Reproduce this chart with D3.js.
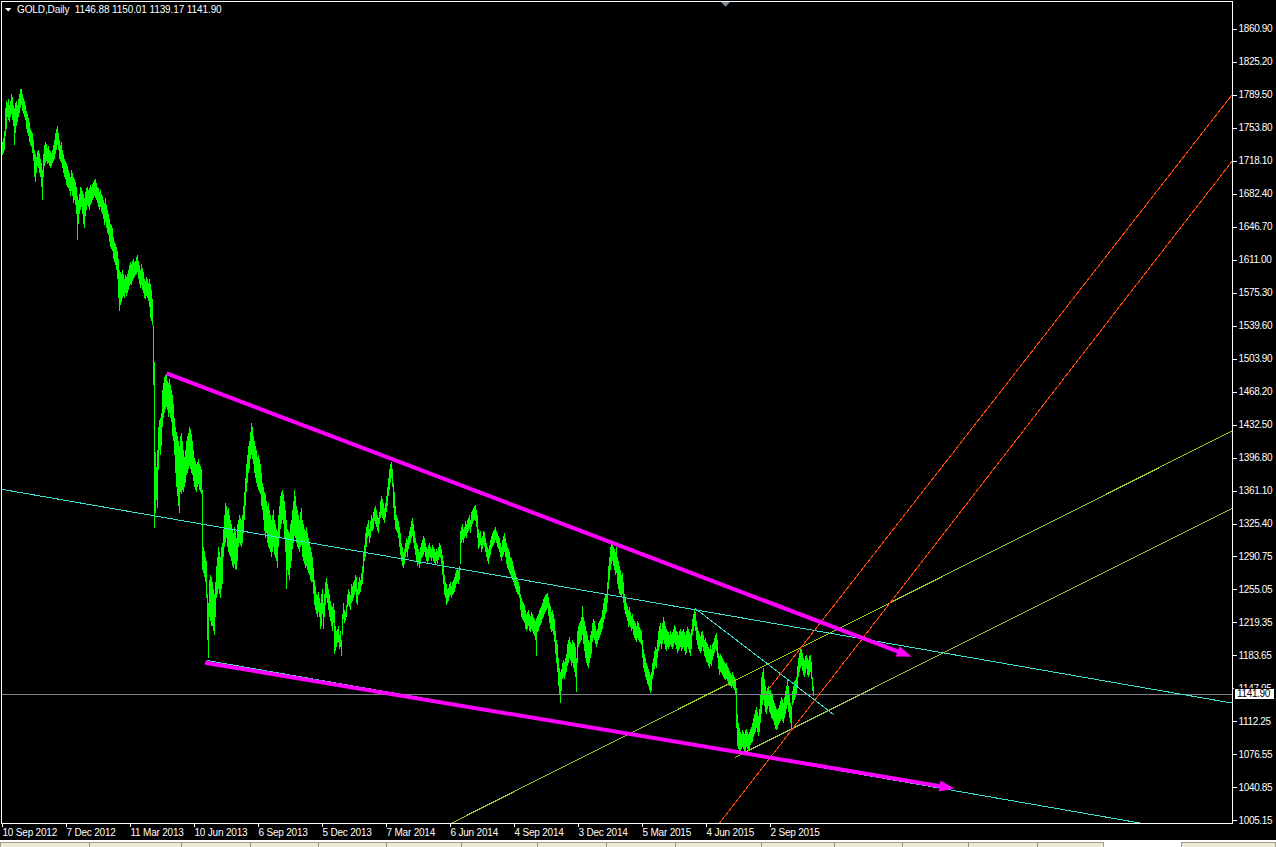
<!DOCTYPE html>
<html><head><meta charset="utf-8">
<script src="https://cdn.jsdelivr.net/npm/d3@7"></script>
<style>
html,body{margin:0;padding:0;background:#000;overflow:hidden}
svg{display:block}
text{font-family:"Liberation Sans",Arial,sans-serif;}
</style></head><body>
<script>
// ---- data ----
const highs = [
1738,1742,1750,1775,1782,1780,1785,1778,1783,1790,
1787,1778,1775,1780,1782,1778,1785,1790,1795,1796,
1790,1786,1782,1778,1772,1768,1764,1760,1752,1750,
1748,1740,1730,1725,1722,1728,1730,1726,1720,1715,
1708,1725,1735,1738,1736,1732,1734,1730,1728,1726,
1730,1735,1740,1748,1752,1755,1748,1740,1735,1738,
1730,1725,1720,1718,1715,1712,1708,1705,1700,1708,
1705,1700,1698,1695,1690,1680,1675,1682,1690,1688,
1685,1682,1678,1684,1688,1690,1686,1688,1692,1690,
1693,1695,1697,1698,1694,1690,1688,1684,1686,1682,
1680,1676,1672,1678,1670,1665,1660,1655,1650,1648,
1645,1636,1630,1628,1625,1620,1612,1600,1598,1595,
1600,1595,1590,1594,1592,1596,1600,1605,1608,1606,
1610,1612,1608,1610,1614,1616,1610,1605,1600,1606,
1602,1598,1590,1588,1592,1590,1586,1590,1585,1578,
1568,1540,1500,1403,1387,1405,1430,1438,1440,1445,
1470,1478,1484,1486,1487,1480,1478,1482,1475,1470,
1465,1455,1440,1430,1425,1420,1415,1410,1420,1424,
1415,1405,1398,1405,1415,1420,1424,1430,1428,1422,
1415,1405,1397,1393,1390,1392,1395,1390,1388,1385,
1362,1300,1296,1290,1285,1250,1240,1265,1270,1268,
1262,1255,1250,1262,1280,1290,1300,1295,1290,1300,
1305,1320,1335,1348,1345,1340,1342,1335,1330,1325,
1320,1315,1322,1318,1310,1325,1330,1335,1332,1330,
1335,1345,1360,1375,1390,1400,1410,1415,1425,1434,
1430,1420,1415,1410,1405,1398,1400,1395,1390,1380,
1370,1365,1360,1358,1350,1345,1348,1340,1335,1330,
1335,1340,1330,1325,1320,1318,1335,1345,1355,1360,
1362,1358,1350,1340,1330,1320,1318,1315,1325,1330,
1340,1350,1362,1355,1345,1340,1335,1330,1338,1342,
1330,1325,1320,1318,1322,1315,1310,1305,1300,1295,
1290,1278,1265,1258,1250,1248,1252,1245,1240,1250,
1255,1240,1250,1262,1267,1260,1255,1250,1242,1238,
1235,1240,1232,1215,1210,1212,1215,1205,1210,1200,
1228,1240,1232,1230,1238,1250,1255,1252,1248,1260,
1258,1262,1265,1270,1268,1255,1262,1268,1265,1272,
1280,1295,1302,1315,1322,1325,1330,1320,1328,1335,
1332,1338,1342,1345,1340,1335,1332,1338,1350,1355,
1352,1348,1342,1348,1355,1365,1375,1385,1390,1392,
1385,1370,1360,1345,1335,1332,1328,1322,1315,1305,
1300,1295,1298,1305,1310,1308,1312,1318,1322,1328,
1332,1325,1318,1310,1305,1302,1298,1295,1300,1305,
1308,1312,1310,1305,1300,1298,1302,1305,1300,1298,
1302,1300,1298,1295,1298,1296,1300,1305,1302,1298,
1292,1285,1270,1262,1260,1255,1256,1260,1262,1258,
1262,1265,1268,1272,1275,1278,1275,1280,1318,1322,
1325,1320,1322,1328,1325,1330,1332,1335,1330,1338,
1340,1342,1345,1346,1340,1335,1320,1315,1318,1310,
1312,1318,1316,1310,1305,1300,1298,1302,1308,1312,
1315,1318,1320,1322,1318,1315,1312,1310,1305,1300,
1308,1312,1315,1310,1305,1300,1298,1295,1290,1288,
1285,1280,1275,1272,1268,1265,1262,1258,1250,1245,
1242,1240,1238,1232,1228,1230,1232,1228,1226,1230,
1228,1225,1222,1220,1224,1226,1228,1232,1234,1236,
1240,1244,1246,1248,1250,1251,1246,1240,1236,1230,
1232,1228,1222,1210,1200,1195,1180,1170,1165,1168,
1175,1178,1176,1180,1185,1195,1200,1203,1198,1195,
1200,1198,1196,1192,1180,1210,1215,1218,1220,1225,
1237,1225,1220,1215,1210,1205,1200,1198,1205,1210,
1218,1222,1220,1215,1210,1212,1218,1220,1222,1225,
1232,1240,1245,1250,1248,1262,1280,1290,1300,1305,
1307,1300,1298,1295,1300,1290,1285,1280,1275,1270,
1272,1262,1250,1245,1240,1236,1232,1235,1230,1226,
1228,1222,1220,1218,1215,1220,1218,1214,1212,1210,
1200,1190,1185,1180,1175,1172,1168,1165,1162,1165,
1175,1180,1188,1192,1190,1200,1210,1215,1218,1212,
1218,1225,1220,1215,1212,1210,1208,1205,1210,1206,
1208,1212,1216,1214,1210,1208,1205,1210,1212,1208,
1210,1212,1208,1205,1210,1214,1212,1208,1206,1212,
1222,1228,1233,1230,1220,1214,1210,1206,1204,1208,
1210,1205,1200,1202,1198,1195,1192,1190,1194,1190,
1195,1198,1202,1205,1207,1200,1186,1182,1185,1182,
1180,1178,1176,1174,1175,1172,1170,1166,1164,1162,
1165,1162,1160,1158,1148,1120,1110,1105,1100,1098,
1102,1100,1098,1102,1104,1100,1098,1100,1104,1106,
1110,1115,1120,1124,1127,1122,1118,1125,1140,1160,
1165,1169,1158,1150,1145,1148,1150,1145,1146,1142,
1140,1135,1132,1128,1125,1124,1126,1130,1134,1138,
1136,1132,1138,1145,1150,1156,1150,1140,1132,1128,
1145,1150,1155,1156,1160,1172,1180,1186,1191,1190,
1186,1180,1178,1182,1184,1180,1178,1182,1184,1176,
1160,1150.01];
const lows = [
1724,1726,1730,1745,1752,1765,1762,1760,1765,1768,
1762,1755,1735,1748,1755,1760,1765,1770,1775,1778,
1772,1768,1765,1762,1752,1748,1745,1738,1735,1733,
1726,1718,1700,1695,1705,1712,1710,1705,1700,1690,
1676,1700,1712,1715,1718,1714,1716,1712,1710,1712,
1715,1718,1720,1725,1730,1735,1730,1720,1718,1715,
1710,1705,1700,1698,1692,1690,1688,1685,1680,1685,
1680,1672,1676,1670,1660,1632,1650,1660,1665,1668,
1660,1650,1645,1658,1665,1670,1668,1665,1670,1672,
1675,1678,1680,1678,1675,1672,1668,1665,1668,1662,
1660,1655,1648,1652,1645,1640,1638,1630,1625,1622,
1620,1612,1608,1605,1600,1590,1570,1556,1562,1565,
1570,1572,1570,1575,1572,1575,1578,1582,1585,1584,
1588,1590,1592,1594,1595,1598,1590,1585,1580,1584,
1578,1575,1570,1568,1572,1570,1566,1560,1548,1545,
1540,1476,1321,1337,1351,1343,1384,1405,1400,1410,
1430,1440,1445,1450,1452,1448,1441,1445,1440,1435,
1420,1415,1400,1380,1365,1355,1345,1337,1360,1358,
1362,1360,1365,1370,1378,1380,1385,1388,1385,1380,
1378,1372,1365,1362,1360,1365,1368,1362,1360,1358,
1275,1272,1268,1262,1245,1200,1180,1225,1220,1215,
1215,1210,1205,1225,1245,1250,1255,1250,1245,1255,
1260,1290,1300,1305,1310,1300,1295,1292,1290,1285,
1280,1278,1282,1276,1275,1285,1300,1305,1302,1300,
1305,1315,1330,1345,1360,1370,1380,1385,1395,1400,
1395,1390,1380,1375,1370,1365,1362,1360,1358,1345,
1340,1330,1318,1310,1315,1305,1300,1298,1295,1290,
1295,1300,1292,1288,1285,1278,1300,1310,1320,1325,
1330,1325,1310,1295,1255,1275,1270,1265,1278,1285,
1298,1305,1312,1310,1305,1300,1298,1295,1300,1302,
1290,1285,1282,1278,1280,1275,1272,1270,1265,1262,
1262,1250,1238,1232,1228,1225,1230,1225,1212,1215,
1228,1212,1225,1238,1245,1240,1232,1225,1220,1215,
1210,1218,1185,1188,1192,1196,1198,1190,1192,1182,
1205,1222,1218,1220,1225,1235,1238,1235,1232,1240,
1242,1245,1248,1252,1240,1238,1248,1250,1252,1258,
1260,1272,1285,1290,1300,1310,1312,1305,1310,1318,
1318,1320,1328,1325,1322,1318,1315,1325,1332,1335,
1332,1330,1326,1332,1338,1345,1355,1362,1370,1375,
1365,1342,1330,1320,1318,1315,1310,1300,1292,1285,
1280,1278,1282,1290,1295,1290,1298,1302,1305,1310,
1312,1305,1298,1292,1285,1280,1282,1278,1282,1288,
1290,1292,1295,1290,1285,1282,1285,1290,1288,1285,
1288,1285,1283,1282,1285,1282,1286,1290,1288,1282,
1270,1260,1248,1245,1238,1240,1242,1246,1248,1245,
1248,1250,1252,1256,1260,1262,1260,1265,1282,1305,
1308,1305,1310,1312,1310,1315,1318,1320,1315,1322,
1325,1328,1330,1328,1322,1310,1298,1300,1302,1295,
1298,1302,1300,1295,1290,1285,1282,1288,1292,1298,
1300,1302,1305,1308,1305,1300,1298,1295,1290,1285,
1290,1292,1295,1290,1282,1278,1275,1272,1270,1268,
1265,1262,1258,1255,1252,1250,1248,1245,1232,1225,
1222,1220,1218,1212,1210,1212,1215,1210,1208,1212,
1210,1206,1204,1200,1183,1208,1210,1214,1216,1218,
1222,1225,1228,1230,1232,1234,1226,1218,1212,1208,
1210,1205,1198,1185,1175,1165,1150,1140,1132,1145,
1158,1160,1158,1162,1165,1172,1175,1180,1178,1172,
1175,1170,1165,1160,1143,1175,1192,1195,1198,1200,
1205,1195,1188,1180,1175,1172,1170,1175,1180,1185,
1198,1202,1200,1195,1192,1195,1200,1202,1205,1208,
1212,1218,1222,1228,1230,1240,1255,1265,1275,1282,
1285,1280,1275,1270,1272,1260,1255,1250,1248,1246,
1250,1240,1232,1228,1225,1220,1214,1216,1214,1210,
1212,1205,1202,1200,1198,1202,1200,1198,1196,1194,
1180,1170,1165,1160,1156,1152,1150,1146,1142,1145,
1158,1162,1168,1172,1170,1180,1188,1192,1195,1190,
1195,1200,1195,1190,1188,1192,1190,1192,1194,1192,
1190,1192,1196,1194,1190,1186,1188,1190,1192,1188,
1190,1192,1188,1184,1186,1192,1190,1186,1182,1190,
1205,1210,1215,1210,1200,1194,1190,1188,1186,1188,
1192,1188,1182,1180,1176,1175,1172,1170,1174,1172,
1178,1182,1186,1190,1188,1180,1168,1162,1165,1164,
1162,1160,1158,1156,1158,1155,1152,1150,1150,1148,
1150,1148,1146,1140,1105,1085,1082,1080,1078,1082,
1084,1082,1078,1080,1084,1082,1080,1082,1086,1088,
1090,1095,1098,1100,1105,1100,1096,1100,1110,1120,
1130,1135,1128,1122,1120,1125,1128,1122,1120,1115,
1114,1112,1108,1104,1102,1104,1108,1110,1112,1114,
1112,1110,1115,1120,1125,1130,1122,1115,1110,1105,
1130,1132,1135,1138,1140,1150,1160,1165,1170,1172,
1166,1162,1160,1164,1168,1162,1160,1162,1165,1158,
1145,1139.17];

const priceTicks = [1860.90,1825.20,1789.50,1753.80,1718.10,1682.40,1646.70,1611.00,1575.30,1539.60,1503.90,1468.20,1432.50,1396.80,1361.10,1325.40,1290.75,1255.05,1219.35,1183.65,1147.95,1112.25,1076.55,1040.85,1005.15];
const dateLabels = ["10 Sep 2012","7 Dec 2012","11 Mar 2013","10 Jun 2013","6 Sep 2013","5 Dec 2013","7 Mar 2014","6 Jun 2014","4 Sep 2014","3 Dec 2014","5 Mar 2015","4 Jun 2015","2 Sep 2015"];
const dateBarIndex = [0,64,128,192,256,320,384,448,512,576,640,704,768];
const symbolTitle = "GOLD,Daily";
const ohlc = [1146.88, 1150.01, 1139.17, 1141.90];
const lastPrice = 1141.90;

// trendline anchors: [barIndex, price]
const cyanLong     = [[-2,1363.0],[1230,1131.6]];
const cyanChannel  = [[205,1177.6],[1138,1001.9]];
const cyanShort    = [[693,1234.0],[832.3,1118.6]];
const magentaUpper = [[164.7,1488.1],[909.7,1181.7]];
const magentaLower = [[203,1175.2],[952.4,1039.2]];
const yellowLong   = [[678,1125.9],[1230,1425.7]];
const yellowShort  = [[733,1072.9],[1230,1342.1]];
const orangeA      = [[767.3,1147.5],[1230,1789.2]];
const orangeB      = [[818,1142.1],[1230,1717.3]];

// ---- layout ----
const W = 1276, H = 847;
const L = 1, T = 1, R = 1232.5, B = 823;
const FONT = '"Liberation Sans",Arial,sans-serif';
const svg = d3.select("body").append("svg").attr("width", W).attr("height", H);
svg.append("rect").attr("width", W).attr("height", H).attr("fill", "#000");

const x = d3.scaleLinear().domain([0, 1230]).range([2, 1232]);
const y = d3.scaleLinear().domain([1005.15, 1860.90]).range([820, 28.5]);

const defs = svg.append("defs");
defs.append("clipPath").attr("id", "plot").append("rect")
  .attr("x", L + 0.5).attr("y", T + 0.5).attr("width", R - L - 0.5).attr("height", B - T - 0.5);

const plot = svg.append("g").attr("clip-path", "url(#plot)");

// bars
plot.append("g").attr("shape-rendering", "crispEdges").selectAll("rect")
  .data(highs.map((h, i) => ({i, h, l: lows[i]})))
  .join("rect")
  .attr("x", d => x(d.i))
  .attr("width", 1)
  .attr("y", d => y(d.h))
  .attr("height", d => Math.max(1, y(d.l) - y(d.h)))
  .attr("fill", "#00ff00");

// price line
plot.append("line")
  .attr("x1", L).attr("x2", R)
  .attr("y1", Math.round(y(lastPrice)) + 0.5).attr("y2", Math.round(y(lastPrice)) + 0.5)
  .attr("stroke", "#80848e").attr("stroke-width", 1);

function toPx(pts){ return pts.map(([i, p]) => [x(i), y(p)]); }
function drawLine(pts, kind, color, width){
  let [a, b] = toPx(pts);
  const dx = b[0] - a[0], dy = b[1] - a[1], len = Math.hypot(dx, dy);
  const ux = dx / len, uy = dy / len;
  if (kind === "line") { a = [a[0] - 3000*ux, a[1] - 3000*uy]; b = [b[0] + 3000*ux, b[1] + 3000*uy]; }
  if (kind === "ray")  { b = [a[0] + 3000*ux, a[1] + 3000*uy]; }
  plot.append("line")
    .attr("x1", a[0]).attr("y1", a[1]).attr("x2", b[0]).attr("y2", b[1])
    .attr("stroke", color).attr("stroke-width", width)
    .attr("shape-rendering", width <= 1 ? "crispEdges" : "auto");
}
function drawArrow(pts, color){
  const [a, b] = toPx(pts);
  const dx = b[0] - a[0], dy = b[1] - a[1], len = Math.hypot(dx, dy);
  const ux = dx / len, uy = dy / len;
  const hl = 15, hw = 5.5;
  const bx = b[0] - hl*ux, by = b[1] - hl*uy;
  plot.append("line").attr("x1", a[0]).attr("y1", a[1]).attr("x2", bx + 2*ux).attr("y2", by + 2*uy)
    .attr("stroke", color).attr("stroke-width", 4);
  plot.append("path")
    .attr("d", `M${b[0]},${b[1]}L${bx - hw*uy},${by + hw*ux}L${bx + hw*uy},${by - hw*ux}Z`)
    .attr("fill", color);
}

const CYAN = "#40e0d0", YEL = "#9acd32", ORG = "#ff4500", MAG = "#ff00ff";
drawLine(cyanLong, "line", CYAN, 1);
drawLine(cyanChannel, "ray", CYAN, 1);
drawLine(cyanShort, "seg", CYAN, 1);
drawLine(yellowLong, "line", YEL, 1);
drawLine(yellowShort, "ray", YEL, 1);
drawLine(orangeB, "line", ORG, 1);
drawLine(orangeA, "ray", ORG, 1);
drawArrow(magentaUpper, MAG);
drawArrow(magentaLower, MAG);

// frame
svg.append("rect").attr("x", L + 0.5).attr("y", T + 0.5).attr("width", R - L - 0.5).attr("height", B - T - 0.5)
  .attr("fill", "none").attr("stroke", "#fff").attr("stroke-width", 1).attr("shape-rendering", "crispEdges");

// price axis
const yAxis = d3.axisRight(y).tickValues(priceTicks).tickFormat(d => d.toFixed(2)).tickSize(4).tickPadding(2);
const gy = svg.append("g").attr("transform", `translate(${R},0)`).call(yAxis);
gy.select(".domain").remove();
gy.selectAll(".tick line").attr("stroke", "#fff").attr("shape-rendering", "crispEdges");
gy.selectAll(".tick text").attr("fill", "#fff").attr("font-size", "10px").attr("letter-spacing", "-0.35px")
  .attr("font-family", FONT);

// current price label (covers the lower part of the neighbouring tick label, as in the original)
const py = y(lastPrice);
svg.append("rect").attr("x", 1234.5).attr("y", Math.round(py) - 5.5).attr("width", 40).attr("height", 11)
  .attr("fill", "#fff").attr("stroke", "#000").attr("shape-rendering", "crispEdges");
svg.append("text").attr("x", 1237).attr("y", py + 3.5).attr("font-size", "10px").attr("letter-spacing", "-0.35px")
  .attr("font-family", FONT).attr("fill", "#000").text(lastPrice.toFixed(2));

// date axis
const xAxis = d3.axisBottom(x).tickValues(dateBarIndex).tickFormat((d, i) => dateLabels[i]).tickSize(4).tickPadding(2);
const gx = svg.append("g").attr("transform", `translate(0,${B})`).call(xAxis);
gx.select(".domain").remove();
gx.selectAll(".tick line").attr("stroke", "#fff").attr("shape-rendering", "crispEdges");
gx.selectAll(".tick text").attr("fill", "#fff").attr("font-size", "10px").attr("letter-spacing", "-0.2px")
  .attr("text-anchor", "start").attr("x", 0).attr("y", 12.5).attr("dy", 0)
  .attr("font-family", FONT);

// title
svg.append("path").attr("d", "M5,8L11.5,8L8.25,11.5Z").attr("fill", "#fff");
svg.append("text").attr("x", 17).attr("y", 13).attr("fill", "#fff").attr("font-size", "10px")
  .attr("font-family", FONT).attr("letter-spacing", "-0.1px").style("white-space", "pre")
  .text(symbolTitle + "  " + ohlc.map(v => v.toFixed(2)).join(" "));
// top-center shift marker
svg.append("path").attr("d", "M721,2L730,2L725.5,6.8Z").attr("fill", "#7b8a9b");

// bottom tab strip
svg.append("rect").attr("x", 0).attr("y", 840).attr("width", W).attr("height", 7).attr("fill", "#fff");
const tabs = [[0, 1104], [1181, 1276]];
svg.selectAll("rect.tab").data(tabs).join("rect").attr("class", "tab")
  .attr("x", d => d[0] + 0.5).attr("y", 842.5).attr("width", d => d[1] - d[0] - 1).attr("height", 6)
  .attr("fill", "#ece9d8").attr("stroke", "#9d9a8c").attr("shape-rendering", "crispEdges");
const dividers = [89, 181, 250, 318, 386, 461, 537, 606, 675, 761, 834, 902, 968, 1037];
svg.selectAll("line.div").data(dividers).join("line").attr("class", "div")
  .attr("x1", d => d + 0.5).attr("x2", d => d + 0.5).attr("y1", 843).attr("y2", 847)
  .attr("stroke", "#8c8a80").attr("shape-rendering", "crispEdges");
</script>
</body></html>
